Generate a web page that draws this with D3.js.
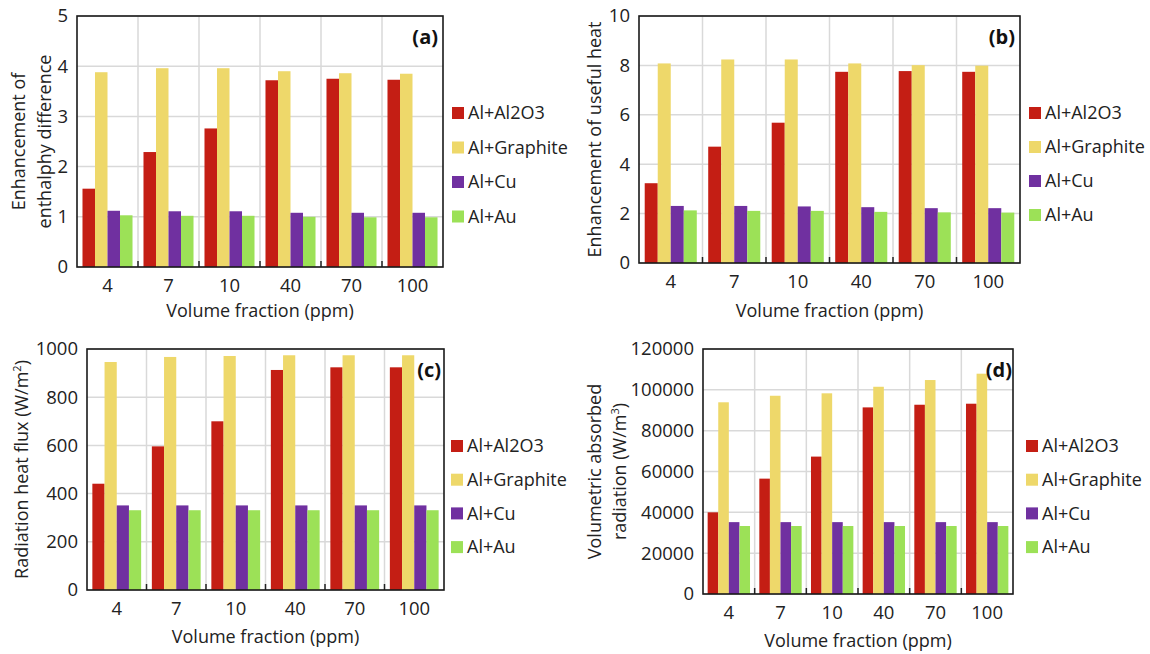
<!DOCTYPE html>
<html>
<head>
<meta charset="utf-8">
<script src="https://cdn.jsdelivr.net/npm/d3@7"></script>
<style>
  html, body { margin: 0; padding: 0; background: #fff; }
  svg { display: block; font-family: "Open Sans", "Noto Sans", sans-serif; }
</style>
</head>
<body>
<svg id="chart" width="1150" height="654"></svg>
<script>
// Nanoparticle volume fractions (ppm) and the four nanofluid mixtures
const categories = ["4", "7", "10", "40", "70", "100"];
const seriesNames = ["Al+Al2O3", "Al+Graphite", "Al+Cu", "Al+Au"];
const seriesColors = ["#c41e14", "#eed86a", "#7030a0", "#9ce157"];

// (a) Enhancement of enthalpy difference
const enthalpyAl2O3    = [1.56, 2.29, 2.76, 3.72, 3.75, 3.73];
const enthalpyGraphite = [3.88, 3.96, 3.96, 3.90, 3.86, 3.85];
const enthalpyCu       = [1.12, 1.11, 1.11, 1.08, 1.08, 1.08];
const enthalpyAu       = [1.03, 1.02, 1.02, 1.00, 0.99, 0.99];

// (b) Enhancement of useful heat
const usefulAl2O3    = [3.23, 4.71, 5.68, 7.74, 7.77, 7.74];
const usefulGraphite = [8.08, 8.24, 8.24, 8.08, 8.01, 7.99];
const usefulCu       = [2.31, 2.31, 2.29, 2.26, 2.22, 2.22];
const usefulAu       = [2.13, 2.11, 2.11, 2.07, 2.05, 2.04];

// (c) Radiation heat flux (W/m2)
const fluxAl2O3    = [441, 596, 700, 913, 924, 924];
const fluxGraphite = [946, 967, 971, 974, 974, 974];
const fluxCu       = [351, 351, 351, 351, 351, 351];
const fluxAu       = [331, 331, 331, 331, 331, 331];

// (d) Volumetric absorbed radiation (W/m3)
const absorbedAl2O3    = [40000, 56500, 67300, 91400, 92700, 93200];
const absorbedGraphite = [93900, 97100, 98300, 101500, 104800, 107900];
const absorbedCu       = [35200, 35200, 35200, 35200, 35200, 35200];
const absorbedAu       = [33300, 33300, 33300, 33300, 33300, 33300];

// Y-axis tick values for each panel
const ticksA = [0, 1, 2, 3, 4, 5];
const ticksB = [0, 2, 4, 6, 8, 10];
const ticksC = [0, 200, 400, 600, 800, 1000];
const ticksD = [0, 20000, 40000, 60000, 80000, 100000, 120000];

const svg = d3.select("#chart");
const FS = 18;       // titles and legend
const FS_TICK = 18.5; // tick labels

function drawPanel(cfg) {
  const { box, series, ticks, tag, yTitle, legend } = cfg;
  const g = svg.append("g");

  const x0 = d3.scaleBand().domain(categories)
    .range([box.left, box.right]).paddingInner(0.18).paddingOuter(0.09);
  const x1 = d3.scaleBand().domain(seriesNames).range([0, x0.bandwidth()]);
  const y = d3.scaleLinear().domain([0, ticks[ticks.length - 1]])
    .range([box.bottom, box.top]);

  // horizontal gridlines
  g.append("g").selectAll("line").data(ticks).join("line")
    .attr("x1", box.left).attr("x2", box.right)
    .attr("y1", d => y(d)).attr("y2", d => y(d))
    .attr("stroke", "#d9d9d9").attr("stroke-width", 1.5);

  // vertical gridlines at category boundaries
  const bounds = d3.range(1, categories.length).map(i => box.left + i * x0.step());
  g.append("g").selectAll("line").data(bounds).join("line")
    .attr("x1", d => d).attr("x2", d => d)
    .attr("y1", box.top).attr("y2", box.bottom)
    .attr("stroke", "#d9d9d9").attr("stroke-width", 1.5);

  // bars
  const rows = categories.map((c, i) => ({
    cat: c,
    vals: seriesNames.map((s, k) => ({ s, k, v: series[k][i] }))
  }));
  g.append("g").selectAll("g").data(rows).join("g")
    .attr("transform", d => `translate(${x0(d.cat)},0)`)
    .selectAll("rect").data(d => d.vals).join("rect")
    .attr("x", d => x1(d.s))
    .attr("width", x1.bandwidth())
    .attr("y", d => y(d.v))
    .attr("height", d => y(0) - y(d.v))
    .attr("fill", d => seriesColors[d.k]);

  // category tick marks on the x axis
  g.append("g").selectAll("line").data(bounds).join("line")
    .attr("x1", d => d).attr("x2", d => d)
    .attr("y1", box.bottom - 6).attr("y2", box.bottom)
    .attr("stroke", "#222").attr("stroke-width", 1.5);

  // plot frame
  g.append("rect")
    .attr("x", box.left).attr("y", box.top)
    .attr("width", box.right - box.left).attr("height", box.bottom - box.top)
    .attr("fill", "none").attr("stroke", "#1a1a1a").attr("stroke-width", 1.6);

  // y tick labels
  g.append("g").selectAll("text").data(ticks).join("text")
    .attr("x", box.left - 9).attr("y", d => y(d)).attr("dy", "0.35em")
    .attr("text-anchor", "end").attr("font-size", FS_TICK).attr("fill", "#222")
    .text(d => d);

  // x tick labels
  g.append("g").selectAll("text").data(categories).join("text")
    .attr("x", d => x0(d) + x0.bandwidth() / 2).attr("y", box.bottom + 25)
    .attr("text-anchor", "middle").attr("font-size", FS_TICK).attr("fill", "#222")
    .text(d => d);

  // x axis title
  g.append("text")
    .attr("x", (box.left + box.right) / 2).attr("y", box.bottom + cfg.xTitleOffset)
    .attr("text-anchor", "middle").attr("font-size", FS).attr("fill", "#222")
    .text("Volume fraction (ppm)");

  // y axis title (one or two lines, each may carry a superscript)
  const cy = (box.top + box.bottom) / 2;
  yTitle.forEach(line => {
    const t = g.append("text")
      .attr("transform", `translate(${line.x},${cy}) rotate(-90)`)
      .attr("dy", "0.35em")
      .attr("text-anchor", "middle").attr("font-size", FS).attr("fill", "#222");
    t.append("tspan").text(line.text);
    if (line.sup) {
      t.append("tspan").attr("baseline-shift", "super").attr("font-size", 11).text(line.sup);
      t.append("tspan").text(line.tail);
    }
  });

  // panel tag
  g.append("text")
    .attr("x", box.right - cfg.tagInset).attr("y", box.top + 28)
    .attr("text-anchor", "end").attr("font-size", 20).attr("font-weight", "bold")
    .attr("fill", "#111").text(tag);

  // legend
  const lg = g.append("g").selectAll("g").data(seriesNames).join("g")
    .attr("transform", (d, i) => `translate(${legend.x},${legend.y + i * legend.gap})`);
  lg.append("rect").attr("x", 0).attr("y", -6).attr("width", 12).attr("height", 12)
    .attr("fill", (d, i) => seriesColors[i]);
  lg.append("text").attr("x", 16).attr("dy", "0.35em")
    .attr("font-size", FS).attr("fill", "#222").text(d => d);
}

drawPanel({
  box: { left: 77, right: 443, top: 16, bottom: 267 },
  series: [enthalpyAl2O3, enthalpyGraphite, enthalpyCu, enthalpyAu],
  ticks: ticksA, tag: "(a)", tagInset: 5, xTitleOffset: 50,
  yTitle: [{ x: 19, text: "Enhancement of" }, { x: 45, text: "enthalphy difference" }],
  legend: { x: 452, y: 113, gap: 34.5 }
});

drawPanel({
  box: { left: 639, right: 1020, top: 16, bottom: 263 },
  series: [usefulAl2O3, usefulGraphite, usefulCu, usefulAu],
  ticks: ticksB, tag: "(b)", tagInset: 5, xTitleOffset: 54,
  yTitle: [{ x: 595, text: "Enhancement of useful heat" }],
  legend: { x: 1029, y: 113, gap: 34 }
});

drawPanel({
  box: { left: 87, right: 444, top: 349, bottom: 590 },
  series: [fluxAl2O3, fluxGraphite, fluxCu, fluxAu],
  ticks: ticksC, tag: "(c)", tagInset: 3, xTitleOffset: 53,
  yTitle: [{ x: 22, text: "Radiation heat flux (W/m", sup: "2", tail: ")" }],
  legend: { x: 451, y: 446, gap: 33.7 }
});

drawPanel({
  box: { left: 703, right: 1013, top: 349, bottom: 594 },
  series: [absorbedAl2O3, absorbedGraphite, absorbedCu, absorbedAu],
  ticks: ticksD, tag: "(d)", tagInset: 1, xTitleOffset: 53,
  yTitle: [{ x: 595, text: "Volumetric absorbed" },
           { x: 620, text: "radiation (W/m", sup: "3", tail: ")" }],
  legend: { x: 1026, y: 446, gap: 33.7 }
});
</script>
</body>
</html>
